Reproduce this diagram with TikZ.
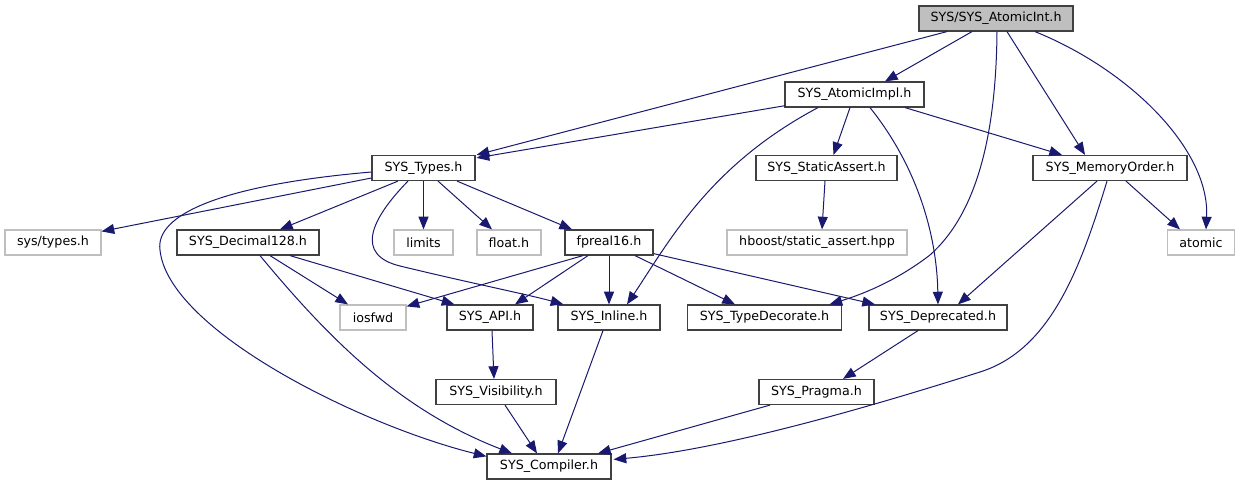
\documentclass[tikz,border=0pt]{standalone}
\usepackage{fontspec}
\setmainfont{DejaVu Sans}
\usetikzlibrary{arrows.meta,calc}
\definecolor{edgeblue}{HTML}{191970}
\definecolor{extgray}{HTML}{BFBFBF}
\definecolor{rootfill}{HTML}{BFBFBF}
\begin{document}
\begin{tikzpicture}[x=0.75pt,y=-0.75pt,
  font=\fontsize{9.5}{11}\selectfont,
  box/.style={draw=black!75, line width=0.9pt, minimum height=18.75pt, inner sep=0pt, fill=white},
  ext/.style={draw=extgray, line width=0.9pt, minimum height=18.75pt, inner sep=0pt, fill=white},
  root/.style={box, fill=rootfill},
  edge/.style={draw=edgeblue, line width=0.75pt, -{Triangle[length=9.5pt,width=7.5pt]}}
]
\useasboundingbox[fill=white] (0,0) rectangle (1243,485);
% nodes
\node[root, minimum width=115.5pt] (aint) at (996,18.5) {SYS/SYS\_AtomicInt.h};
\node[box, minimum width=104.25pt] (aimpl) at (854.5,94.5) {SYS\_AtomicImpl.h};
\node[box, minimum width=77.25pt] (types) at (423.5,168) {SYS\_Types.h};
\node[box, minimum width=105.75pt] (sassert) at (826.5,168) {SYS\_StaticAssert.h};
\node[box, minimum width=115.5pt] (morder) at (1110,168) {SYS\_MemoryOrder.h};
\node[ext, minimum width=72pt] (systypes) at (53,242.5) {sys/types.h};
\node[box, minimum width=106.5pt] (dec) at (248,242.5) {SYS\_Decimal128.h};
\node[ext, minimum width=44.25pt] (limits) at (423.5,242.5) {limits};
\node[ext, minimum width=48pt] (float) at (509,242.5) {float.h};
\node[box, minimum width=66pt] (fp) at (609,242.5) {fpreal16.h};
\node[ext, minimum width=135pt] (hboost) at (817,242.5) {hboost/static\_assert.hpp};
\node[ext, minimum width=50.25pt] (atomic) at (1201,242.5) {atomic};
\node[ext, minimum width=49.5pt] (iosfwd) at (373,317.5) {iosfwd};
\node[box, minimum width=64.5pt] (api) at (490,317.5) {SYS\_API.h};
\node[box, minimum width=76.5pt] (inline) at (609,317.5) {SYS\_Inline.h};
\node[box, minimum width=115.5pt] (tdec) at (764.5,317.5) {SYS\_TypeDecorate.h};
\node[box, minimum width=103.5pt] (depr) at (938,317.5) {SYS\_Deprecated.h};
\node[box, minimum width=90pt] (vis) at (496,392) {SYS\_Visibility.h};
\node[box, minimum width=86.25pt] (pragma) at (816.5,392) {SYS\_Pragma.h};
\node[box, minimum width=93pt] (comp) at (549,466.5) {SYS\_Compiler.h};
% edges from SYS_AtomicInt.h
\draw[edge] ($(aint.south)+(-49,0)$) -- ($(types.north east)+(1,0)$);
\draw[edge] ($(aint.south)+(-24,0)$) -- ($(aimpl.north)+(30.5,0)$);
\draw[edge] ($(aint.south)+(1,0)$) .. controls (996,140) and (975,215) .. (930,255) .. controls (895,282) and (860,295) .. ($(tdec.north)+(65,0)$);
\draw[edge] ($(aint.south)+(11,0)$) -- ($(morder.north)+(-25,0)$);
\draw[edge] ($(aint.south)+(39,0)$) .. controls (1130,70) and (1210,150) .. ($(atomic.north)+(5,0)$);
% edges from SYS_AtomicImpl.h
\draw[edge] ($(aimpl.south west)+(1,-2)$) -- ($(types.north east)+(1,3)$);
\draw[edge] ($(aimpl.south)+(-4.5,0)$) -- ($(sassert.north)+(7,0)$);
\draw[edge] ($(aimpl.south)+(50.5,0)$) -- ($(morder.north)+(-48,0)$);
\draw[edge] ($(aimpl.south)+(-36.5,0)$) .. controls (710,165) and (670,240) .. ($(inline.north)+(18,0)$);
\draw[edge] ($(aimpl.south)+(15.5,0)$) .. controls (920,170) and (937,240) .. (depr.north);
% edges from SYS_Types.h
\draw[edge] ($(types.west)+(0,10)$) -- ($(systypes.north east)+(0,2)$);
\draw[edge] ($(types.west)+(0,4)$) .. controls (220,185) and (155,215) .. (160,250) .. controls (168,330) and (360,425) .. ($(comp.north west)+(0,3)$);
\draw[edge] ($(types.south)+(-25.5,0)$) -- ($(dec.north)+(32,0)$);
\draw[edge] (types.south) -- (limits.north);
\draw[edge] ($(types.south)+(14.5,0)$) -- ($(float.north)+(-17,0)$);
\draw[edge] ($(types.south)+(33.5,0)$) -- ($(fp.north)+(-37,0)$);
\draw[edge] ($(types.south)+(-15.5,0)$) .. controls (370,220) and (355,255) .. (400,266) .. controls (470,283) and (530,295) .. ($(inline.north west)+(6,0)$);
% edges from SYS_Decimal128.h
\draw[edge] ($(dec.south)+(22,0)$) -- ($(iosfwd.north)+(-25,0)$);
\draw[edge] ($(dec.south)+(42,0)$) -- ($(api.north west)+(8,0)$);
\draw[edge] ($(dec.south)+(12,0)$) .. controls (330,340) and (400,410) .. ($(comp.north)+(-37,0)$);
% edges from fpreal16.h
\draw[edge] ($(fp.south)+(-26,0)$) -- ($(iosfwd.north east)+(0,2)$);
\draw[edge] ($(fp.south)+(-21,0)$) -- ($(api.north)+(25,0)$);
\draw[edge] (fp.south) -- (inline.north);
\draw[edge] ($(fp.south)+(26,0)$) -- ($(tdec.north)+(-29.5,0)$);
\draw[edge] ($(fp.south east)+(0,-2)$) -- ($(depr.north)+(-63,0)$);
% others
\draw[edge] ($(sassert.south)+(-1.5,0)$) -- ($(hboost.north)+(5,0)$);
\draw[edge] ($(morder.south)+(-13,0)$) -- ($(depr.north)+(20,0)$);
\draw[edge] ($(morder.south)+(16,0)$) -- ($(atomic.north)+(-21,0)$);
\draw[edge] ($(morder.south)+(-3,0)$) .. controls (1080,270) and (1050,350) .. (980,372) .. controls (860,410) and (720,450) .. ($(comp.north east)+(2,6)$);
\draw[edge] ($(api.south)+(2,0)$) -- ($(vis.north)+(-2,0)$);
\draw[edge] ($(vis.south)+(9,0)$) -- ($(comp.north)+(-12,0)$);
\draw[edge] ($(inline.south)+(-6,0)$) -- ($(comp.north)+(9,0)$);
\draw[edge] ($(depr.south)+(-20,0)$) -- ($(pragma.north)+(26.5,0)$);
\draw[edge] ($(pragma.south)+(-46.5,0)$) -- ($(comp.north)+(49,0)$);
\end{tikzpicture}
\end{document}
